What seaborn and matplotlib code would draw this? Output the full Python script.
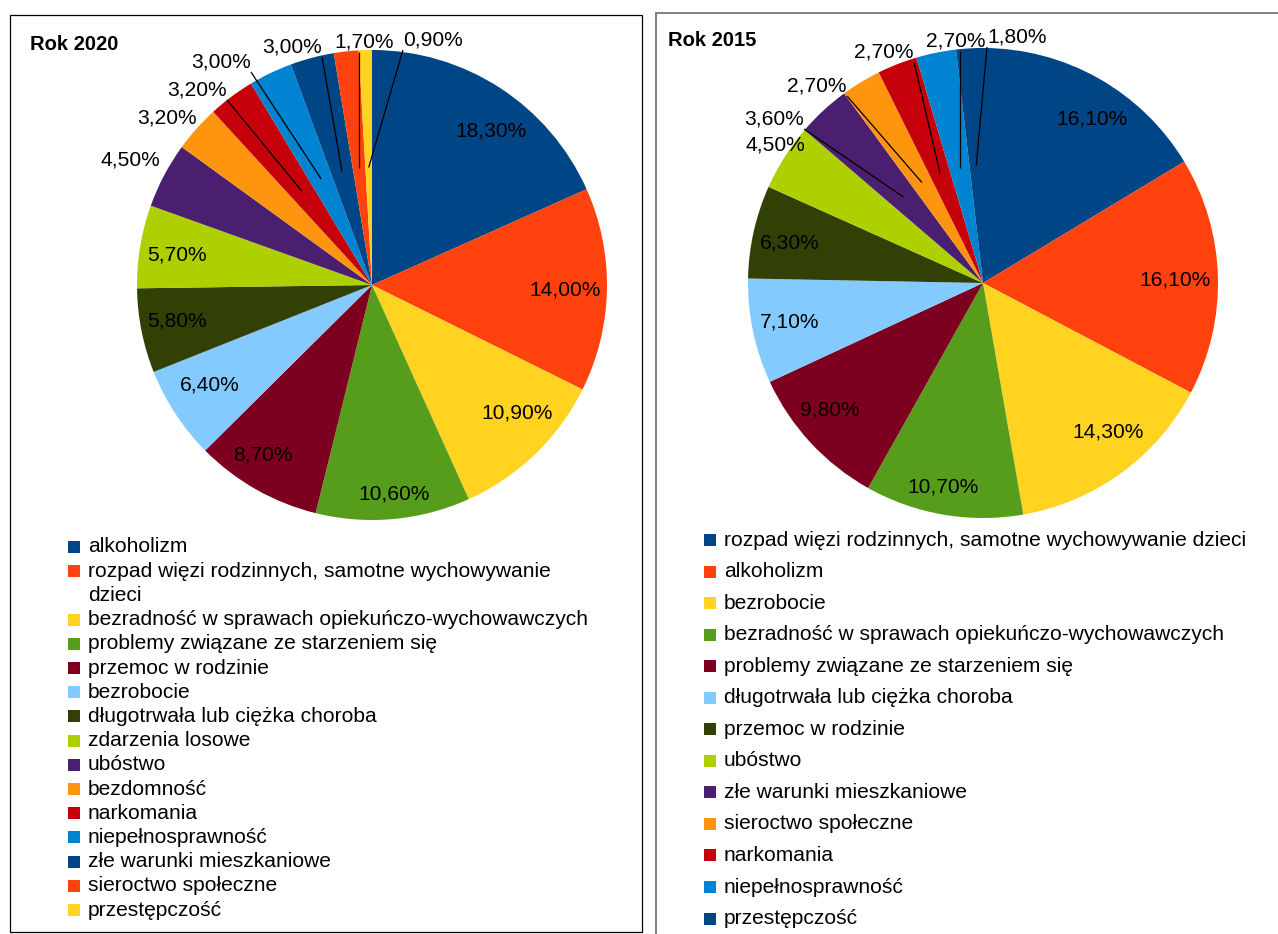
import numpy as np
import matplotlib
matplotlib.use("Agg")
import matplotlib.pyplot as plt
from matplotlib.patches import Rectangle
import seaborn as sns

# ---------------- data ----------------
cat_2020 = ["alkoholizm",
            "rozpad więzi rodzinnych, samotne wychowywanie\ndzieci",
            "bezradność w sprawach opiekuńczo-wychowawczych",
            "problemy związane ze starzeniem się",
            "przemoc w rodzinie",
            "bezrobocie",
            "długotrwała lub ciężka choroba",
            "zdarzenia losowe",
            "ubóstwo",
            "bezdomność",
            "narkomania",
            "niepełnosprawność",
            "złe warunki mieszkaniowe",
            "sieroctwo społeczne",
            "przestępczość"]
val_2020 = [18.3, 14.0, 10.9, 10.6, 8.7, 6.4, 5.8, 5.7, 4.5, 3.2, 3.2, 3.0, 3.0, 1.7, 0.9]

cat_2015 = ["rozpad więzi rodzinnych, samotne wychowywanie dzieci",
            "alkoholizm",
            "bezrobocie",
            "bezradność w sprawach opiekuńczo-wychowawczych",
            "problemy związane ze starzeniem się",
            "długotrwała lub ciężka choroba",
            "przemoc w rodzinie",
            "ubóstwo",
            "złe warunki mieszkaniowe",
            "sieroctwo społeczne",
            "narkomania",
            "niepełnosprawność",
            "przestępczość"]
val_2015 = [16.1, 16.1, 14.3, 10.7, 9.8, 7.1, 6.3, 4.5, 3.6, 2.7, 2.7, 2.7, 1.8]

palette = ["#004586", "#ff420e", "#ffd320", "#579d1c", "#7e0021", "#83caff",
           "#314004", "#aecf00", "#4b1f6f", "#ff950e", "#c5000b", "#0084d1"]

# ---------------- layout (pixels, top-left origin) ----------------
W, H = 1278, 934
R_PX = 235
panels = [
    dict(title="Rok 2020", cats=cat_2020, vals=val_2020, center=(372, 285),
         title_xy=(30, 45),
         # label centre offsets from pie centre in px (dx right, dy up), leader line flag
         labels=[(119, 154, False), (193, -5, False), (145, -128, False),
                 (22, -209, False), (-109, -170, False), (-162, -100, False),
                 (-195, -36, False), (-195, 30, False),
                 (-242, 125, False), (-205, 167, False), (-175, 195, True),
                 (-151, 223, True), (-80, 238, True), (-8, 243, True),
                 (61, 245, True)],
         leg_x=68, leg_y0=547, leg_step=24.2),
    dict(title="Rok 2015", cats=cat_2015, vals=val_2015, center=(983, 283),
         title_xy=(668, 40),
         labels=[(109, 164, False), (192, 3, False), (125, -149, False),
                 (-40, -204, False), (-153, -127, False), (-193, -39, False),
                 (-193, 40, False),
                 (-208, 138, False), (-209, 164, True), (-166, 197, True),
                 (-99, 231, True), (-27, 242, True), (34, 246, True)],
         leg_x=704, leg_y0=540, leg_step=31.55),
]

sns.set_theme(style="white")
plt.rcParams["font.family"] = ["Liberation Sans", "DejaVu Sans"]

fig = plt.figure(figsize=(W / 100, H / 100), dpi=100)
fig.patch.set_facecolor("white")


def fx(x):
    return x / W


def fy(y):
    return (H - y) / H


# panel frames
fig.add_artist(Rectangle((fx(10), fy(932)), 632 / W, 917 / H, transform=fig.transFigure,
                         fill=False, edgecolor="#000000", linewidth=0.9))
fig.add_artist(Rectangle((fx(656), fy(960)), 700 / W, 947 / H, transform=fig.transFigure,
                         fill=False, edgecolor="#7f7f7f", linewidth=1.4))

FS = 15.1
half_w, half_h = 30 / R_PX, 10 / R_PX

for p in panels:
    cx, cy = p["center"]
    ax = fig.add_axes([fx(cx - R_PX), fy(cy + R_PX), 2 * R_PX / W, 2 * R_PX / H])
    cols = [palette[i % len(palette)] for i in range(len(p["vals"]))]
    wedges, _ = ax.pie(p["vals"], colors=cols, startangle=90, counterclock=False,
                       radius=1.0, wedgeprops=dict(linewidth=0, antialiased=True))
    ax.set_xlim(-1, 1)
    ax.set_ylim(-1, 1)
    ax.set_aspect("equal")
    ax.axis("off")

    for w, v, (dx, dy, line) in zip(wedges, p["vals"], p["labels"]):
        lab = f"{v:.2f}%".replace(".", ",")
        mid = np.deg2rad((w.theta1 + w.theta2) / 2)
        lx, ly = dx / R_PX, dy / R_PX
        ax.text(lx, ly, lab, ha="center", va="center", fontsize=FS,
                color="#000000", clip_on=False)
        if line:
            sx, sy = 0.5 * np.cos(mid), 0.5 * np.sin(mid)
            ex = np.clip(sx, lx - half_w, lx + half_w)
            ey = np.clip(sy, ly - half_h, ly + half_h)
            ax.plot([sx, ex], [sy, ey], color="#000000", linewidth=0.9,
                    clip_on=False, solid_capstyle="butt")

    # title
    tx, ty = p["title_xy"]
    fig.text(fx(tx), fy(ty), p["title"], ha="left", va="center", fontsize=14.5,
             fontweight="bold", color="#000000")

    # legend
    y = p["leg_y0"]
    for i, c in enumerate(p["cats"]):
        lines = c.split("\n")
        fig.add_artist(Rectangle((fx(p["leg_x"]), fy(y + 6)), 12 / W, 12 / H,
                                 transform=fig.transFigure, facecolor=cols[i],
                                 edgecolor="none"))
        for ln in lines:
            fig.text(fx(p["leg_x"] + 20), fy(y), ln, ha="left", va="center",
                     fontsize=FS, color="#000000")
            y += p["leg_step"]

fig.savefig("out.png", dpi=100, facecolor="white")
